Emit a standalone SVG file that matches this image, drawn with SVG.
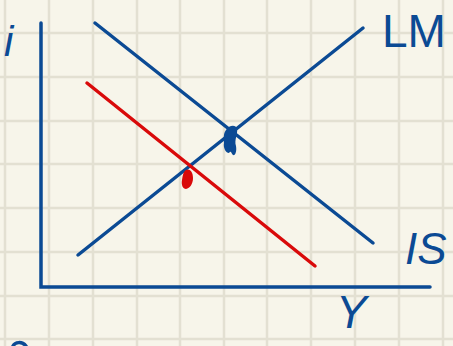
<svg xmlns="http://www.w3.org/2000/svg" width="453" height="346" viewBox="0 0 453 346">
<style>
.grid{stroke:#e3e0d2;stroke-width:2.5;fill:none}
.blue{stroke:#0b4a94;stroke-width:3.5;fill:none;stroke-linecap:round}
.red{stroke:#d90a0a;stroke-width:3.5;fill:none;stroke-linecap:round}
.lbl{font-family:"Liberation Sans",Arial,sans-serif;fill:#0b4a94}
</style>
<rect width="453" height="346" fill="#f7f5ea"/>
<g id="grid">
<path class="grid" d="M5 0V346M49 0V346M93 0V346M137 0V346M180 0V346M224 0V346M267 0V346M311 0V346M355 0V346M399 0V346M443 0V346"/>
<path class="grid" d="M0 33H453M0 77H453M0 121H453M0 164H453M0 208H453M0 252H453M0 296H453M0 339H453"/>
</g>
<g id="axes">
<path class="blue" d="M41 23V287H430"/>
</g>
<g id="connectors">
<path id="LM" class="blue" d="M78 255L363 28"/>
<path id="IS" class="blue" d="M95 23L373 243"/>
<path id="IS2" class="red" d="M87 83L315 266"/>
</g>
<g id="points">
<path d="M226 130C229 125 236 124 237 129C238 134 234 140 236 146C237 152 235 156 233 155C231 153 231 150 229 153C226 153 223 148 224 143C224 138 223 134 226 130Z" fill="#0b4a94"/>
<path d="M186 170C190 168 193 172 193 178C193 184 190 188 186 189C183 189 181 185 182 180C183 175 183 172 186 170Z" fill="#d90a0a"/>
</g>
<g id="labels">
<text class="lbl" x="4" y="56" font-size="42" font-style="italic">i</text>
<text class="lbl" x="382" y="47" font-size="46">LM</text>
<text class="lbl" x="405" y="264" font-size="44" font-style="italic">IS</text>
<text class="lbl" x="336" y="328" font-size="46" font-style="italic">Y</text>
<path class="blue" d="M13 346C15 342 22 341 26 346"/>
</g>
</svg>
